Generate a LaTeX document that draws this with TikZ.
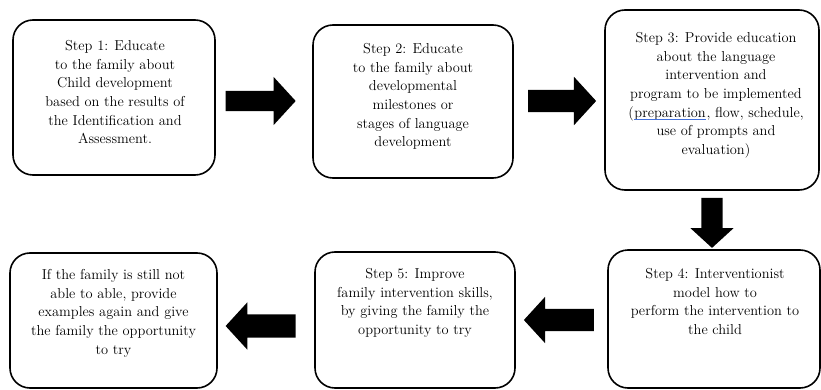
\documentclass[tikz,border=0pt]{standalone}
\usetikzlibrary{shapes.arrows}
\definecolor{ulblue}{RGB}{68,114,220}
\newcommand\myblueul[1]{\tikz[baseline=(w.base)]{\node[inner sep=0pt, anchor=base] (w) {#1}; \draw[ulblue, line width=1pt] ([yshift=-2.8pt]w.base west) -- ([yshift=-2.8pt]w.base east);}}
\begin{document}
\begin{tikzpicture}[x=1pt,y=-1pt,
  stepbox/.style={draw=black, line width=1.6pt, rounded corners=20pt, inner sep=0pt},
  steptext/.style={anchor=north, align=center, inner sep=0pt, font=\fontsize{14.4}{18.7}\selectfont},
  blockarrow/.style={single arrow, fill=black, draw=none, inner xsep=0pt, single arrow tip angle=95}]
\useasboundingbox (0,0) rectangle (821,390);
% boxes
\node[stepbox, minimum width=202pt, minimum height=155pt] (b1) at (114,97.5) {};
\node[stepbox, minimum width=200pt, minimum height=153pt] (b2) at (413,101.5) {};
\node[stepbox, minimum width=214pt, minimum height=180pt] (b3) at (712,100) {};
\node[stepbox, minimum width=212pt, minimum height=138pt] (b4) at (714,319) {};
\node[stepbox, minimum width=200pt, minimum height=136pt] (b5) at (415,320) {};
\node[stepbox, minimum width=207pt, minimum height=135pt] (b6) at (113.5,320.5) {};
% texts
\node[steptext] (t1) at (115,40) {Step 1: Educate\\to the family about\\Child development\\based on the results of\\the Identification and\\Assessment.};
\node[steptext] (t2) at (413,43) {Step 2: Educate\\to the family about\\developmental\\milestones or\\stages of language\\development};
\node[steptext] (t3) at (716,32) {Step 3: Provide education\\about the language\\intervention and\\program to be implemented\\(\myblueul{preparation}, flow, schedule,\\use of prompts and\\evaluation)};
\node[steptext] (t4) at (715,268) {Step 4: Interventionist\\model how to\\perform the intervention to\\the child};
\node[steptext] (t5) at (415,268) {Step 5: Improve\\family intervention skills,\\by giving the family the\\opportunity to try};
\node[steptext] (t6) at (113.5,269) {If the family is still not\\able to able, provide\\examples again and give\\the family the opportunity\\to try};
% block arrows
\node[blockarrow, inner ysep=10pt, minimum height=70pt, minimum width=48pt, single arrow head extend=14pt] (a1) at (256,101) {};
\node[blockarrow, inner ysep=11pt, minimum height=68pt, minimum width=48pt, single arrow head extend=13pt] (a2) at (557,101) {};
\node[blockarrow, inner xsep=10.5pt, inner ysep=0pt, minimum height=50pt, minimum width=43pt, single arrow head extend=11pt, shape border rotate=270] (a3) at (712,218) {};
\node[blockarrow, inner ysep=11pt, minimum height=70pt, minimum width=46pt, single arrow head extend=12pt, shape border rotate=180] (a4) at (564,320) {};
\node[blockarrow, inner ysep=11.5pt, minimum height=70pt, minimum width=47pt, single arrow head extend=12pt, shape border rotate=180] (a5) at (266,326) {};
\end{tikzpicture}
\end{document}
